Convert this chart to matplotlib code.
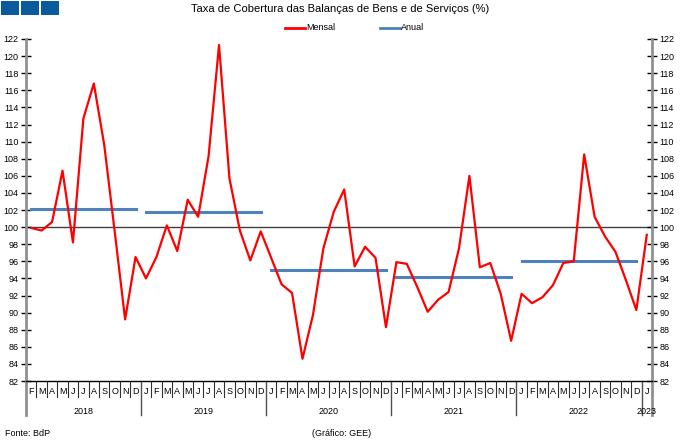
import numpy as np
import matplotlib.pyplot as plt
import matplotlib.transforms as mtransforms
from matplotlib.patches import Rectangle
from matplotlib.lines import Line2D

# Dados: taxa de cobertura mensal (fev 2018 - jan 2023) e anual
mensal = [99.9, 99.6, 100.6, 106.6, 98.2, 112.7, 116.8, 109.6, 99.5, 89.2, 96.5,
          94.0, 96.5, 100.2, 97.2, 103.2, 101.2, 108.3, 121.3, 105.7, 99.6, 96.1, 99.5,
          96.4, 93.3, 92.3, 84.6, 89.7, 97.5, 101.8, 104.4, 95.4, 97.7, 96.4, 88.3,
          95.9, 95.7, 93.0, 90.1, 91.5, 92.4, 97.5, 106.0, 95.3, 95.8, 92.2, 86.7,
          92.2, 91.1, 91.8, 93.2, 95.8, 96.0, 108.5, 101.2, 98.9, 97.1, 93.8, 90.3,
          99.1]
anos = [2018, 2019, 2020, 2021, 2022, 2023]
anual = [102.1, 101.8, 95.0, 94.2, 96.0]
letras_meses = "JFMAMJJASOND"
mes_inicial = 1  # fevereiro (indice 0 = janeiro)

plt.rcParams['font.family'] = ['Liberation Sans', 'DejaVu Sans']

W, H = 680, 444
fig = plt.figure(figsize=(W / 100, H / 100), dpi=100)
x0, x1, y_top, y_bot = 26, 652, 39, 381
ax = fig.add_axes([x0 / W, (H - y_bot) / H, (x1 - x0) / W, (y_bot - y_top) / H])

n = len(mensal)
x = np.arange(n)
meses = [(mes_inicial + i) % 12 for i in range(n)]
ano_idx = [(mes_inicial + i) // 12 for i in range(n)]

cor_mensal = '#ff0000'
cor_anual = '#4f81bd'

ax.axhline(100, color='#404040', lw=1.0, zorder=1)
ax.plot(x, mensal, color=cor_mensal, lw=1.6, zorder=3)

# linha anual: um segmento por ano
for k, v in enumerate(anual):
    idx = [i for i in range(n) if ano_idx[i] == k]
    ax.plot([idx[0], idx[-1]], [v, v], color=cor_anual, lw=2.2, zorder=2)

ax.set_xlim(-0.5, n - 0.5)
ax.set_ylim(82, 122)
ax.set_yticks(np.arange(82, 123, 2))
ax.tick_params(axis='y', direction='inout', length=7, width=1, color='black',
               labelsize=6.5, pad=2, left=True, right=True, labelleft=True, labelright=True)
ax.set_xticks([])
ax.spines['top'].set_visible(False)
for s in ['left', 'right']:
    ax.spines[s].set_color('#909090')
    ax.spines[s].set_linewidth(2)
ax.spines['bottom'].set_color('black')
ax.spines['bottom'].set_linewidth(1)

# eixo de categorias (meses e anos)
trans = mtransforms.blended_transform_factory(ax.transData, ax.transAxes)
px = 1.0 / (y_bot - y_top)
for i in range(n):
    ax.text(x[i], -10 * px, letras_meses[meses[i]], transform=trans,
            ha='center', va='center', fontsize=6.5, clip_on=False)
    if i > 0:
        bx = i - 0.5
        if meses[i] == 0:
            ax.plot([bx, bx], [0, -34 * px], transform=trans, color='#505050',
                    lw=1, clip_on=False)
        else:
            ax.plot([bx, bx], [0, -16 * px], transform=trans, color='#303030',
                    lw=0.8, clip_on=False)
for side in [-0.5, n - 0.5]:
    ax.plot([side, side], [0, -34 * px], transform=trans, color='#909090',
            lw=2, clip_on=False)
for k, a in enumerate(anos):
    idx = [i for i in range(n) if ano_idx[i] == k]
    ax.text((idx[0] + idx[-1]) / 2, -30 * px, str(a), transform=trans,
            ha='center', va='center', fontsize=6.5, clip_on=False)

# titulo
fig.text(340 / W, 1 - 9 / H, 'Taxa de Cobertura das Balanças de Bens e de Serviços (%)',
         ha='center', va='center', fontsize=8)

# legenda desenhada a mao
ly = 1 - 28 / H
for (lx0, lx1, cor, nome) in [(285, 305, cor_mensal, 'Mensal'), (380, 400, cor_anual, 'Anual')]:
    fig.add_artist(Line2D([lx0 / W, lx1 / W], [ly, ly], color=cor, lw=2,
                          transform=fig.transFigure))
    fig.text((lx1 + 1) / W, ly, nome, ha='left', va='center', fontsize=6.5)

fig.text(5 / W, 1 - 433 / H, 'Fonte: BdP', ha='left', va='center', fontsize=6.5)
fig.text(312 / W, 1 - 433 / H, '(Gráfico: GEE)', ha='left', va='center', fontsize=6.5)

for k in range(3):
    fig.patches.append(Rectangle(((1 + 20 * k) / W, 1 - 15 / H), 18 / W, 14 / H,
                                 transform=fig.transFigure, facecolor='#0a5a9e',
                                 edgecolor='none'))

fig.savefig('out.png', dpi=100)
